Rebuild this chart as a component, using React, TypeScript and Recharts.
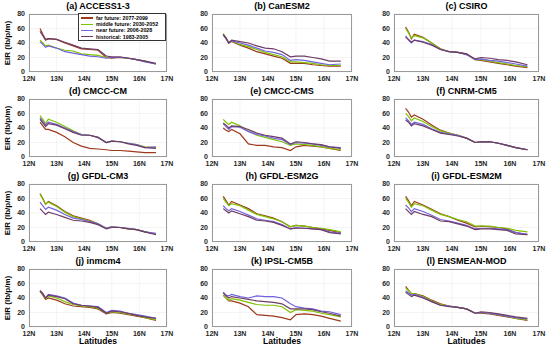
import { LineChart, Line, XAxis, YAxis, CartesianGrid } from 'recharts'

// latitudes (deg N) sampled along the coast
const LATS = [12.4, 12.5, 12.6, 12.7, 13.0, 13.3, 13.6, 13.9, 14.2, 14.5, 14.8, 15.0, 15.3, 15.6, 15.9, 16.2, 16.6]
const X_TICKS = [12, 13, 14, 15, 16, 17]
const Y_TICKS = [0, 20, 40, 60, 80]

const SERIES = [
  { key: 'far', name: 'far future: 2077-2099', color: '#9c3a1c' },
  { key: 'mid', name: 'middle future: 2030-2052', color: '#7fc200' },
  { key: 'near', name: 'near future: 2006-2028', color: '#7262e0' },
  { key: 'hist', name: 'historical: 1983-2005', color: '#6e3c66' },
]

const ACCESS13 = {
  far: [60, 52, 45, 46, 45, 40, 36, 32, 31, 30, 20, 19, 20, 19, 17, 15, 11],
  mid: [44, 40, 36, 37, 33, 30, 29, 25, 24, 23, 20, 20, 20, 19, 17, 15, 11],
  near: [42, 38, 34, 36, 33, 28, 26, 24, 22, 21, 19, 20, 20, 19, 17, 14, 11],
  hist: [56, 50, 44, 46, 45, 41, 37, 33, 32, 31, 22, 21, 21, 19, 17, 15, 12],
}
const CANESM2 = {
  far: [52, 46, 40, 42, 37, 33, 28, 25, 22, 19, 12, 12, 12, 10, 9, 8, 8],
  mid: [53, 47, 41, 43, 38, 35, 31, 27, 24, 21, 14, 14, 13, 12, 10, 9, 9],
  near: [51, 46, 40, 43, 40, 37, 33, 29, 27, 24, 16, 17, 16, 14, 12, 10, 11],
  hist: [52, 47, 40, 44, 42, 40, 36, 33, 32, 28, 21, 22, 22, 20, 18, 15, 15],
}
const CSIRO = {
  far: [62, 55, 46, 52, 48, 40, 32, 28, 27, 25, 17, 16, 14, 12, 10, 8, 6],
  mid: [60, 54, 47, 50, 47, 40, 32, 28, 27, 24, 17, 17, 15, 13, 11, 9, 7],
  near: [50, 44, 40, 44, 42, 38, 31, 28, 27, 24, 17, 18, 16, 15, 13, 11, 8],
  hist: [48, 45, 41, 44, 41, 37, 31, 28, 27, 25, 18, 20, 19, 17, 16, 14, 10],
}
const CMCC_CM = {
  far: [48, 43, 38, 38, 34, 28, 20, 15, 12, 11, 10, 9, 9, 8, 7, 6, 6],
  mid: [57, 52, 46, 52, 48, 42, 36, 31, 30, 27, 20, 22, 21, 19, 17, 14, 13],
  near: [54, 49, 44, 48, 45, 40, 35, 31, 30, 27, 20, 22, 21, 19, 17, 13, 14],
  hist: [52, 47, 42, 46, 44, 39, 34, 30, 30, 27, 20, 22, 21, 18, 16, 13, 12],
}
const CMCC_CMS = {
  far: [40, 37, 35, 38, 32, 18, 16, 16, 14, 13, 9, 14, 16, 15, 14, 12, 9],
  mid: [52, 48, 45, 48, 43, 36, 30, 27, 24, 21, 16, 18, 17, 16, 14, 12, 10],
  near: [46, 42, 38, 42, 41, 35, 31, 29, 26, 24, 17, 20, 19, 18, 16, 14, 13],
  hist: [47, 44, 40, 43, 42, 38, 33, 30, 28, 26, 18, 21, 20, 18, 17, 14, 12],
}
const CNRM_CM5 = {
  far: [67, 62, 55, 58, 52, 44, 37, 33, 30, 26, 20, 21, 21, 19, 16, 13, 10],
  mid: [60, 56, 50, 54, 49, 42, 36, 33, 30, 26, 20, 21, 21, 19, 16, 13, 10],
  near: [54, 50, 45, 48, 45, 39, 34, 32, 30, 26, 20, 21, 21, 19, 16, 13, 10],
  hist: [51, 48, 43, 46, 43, 38, 33, 31, 29, 26, 20, 21, 21, 19, 16, 13, 10],
}
const GFDL_CM3 = {
  far: [67, 60, 52, 56, 50, 42, 36, 33, 30, 25, 19, 21, 20, 18, 17, 14, 11],
  mid: [66, 59, 52, 55, 49, 41, 35, 32, 29, 25, 19, 21, 20, 18, 17, 14, 11],
  near: [55, 50, 45, 48, 44, 38, 33, 31, 28, 25, 19, 21, 20, 19, 17, 14, 12],
  hist: [46, 42, 38, 41, 38, 34, 30, 29, 27, 24, 18, 20, 20, 18, 17, 14, 10],
}
const GFDL_ESM2G = {
  far: [63, 57, 51, 56, 51, 46, 39, 36, 33, 28, 21, 23, 22, 20, 18, 16, 13],
  mid: [60, 55, 50, 53, 50, 44, 38, 35, 32, 28, 21, 23, 22, 20, 19, 17, 14],
  near: [50, 46, 43, 46, 42, 37, 32, 30, 28, 24, 18, 20, 19, 18, 17, 14, 12],
  hist: [46, 43, 40, 43, 39, 35, 30, 29, 27, 23, 18, 19, 19, 18, 17, 13, 11],
}
const GFDL_ESM2M = {
  far: [63, 57, 50, 56, 51, 45, 39, 35, 30, 26, 21, 22, 21, 20, 18, 13, 10],
  mid: [60, 55, 48, 53, 50, 44, 38, 35, 31, 28, 22, 22, 22, 20, 19, 16, 14],
  near: [51, 47, 42, 46, 42, 37, 31, 29, 26, 23, 18, 19, 19, 18, 17, 13, 11],
  hist: [46, 42, 38, 42, 38, 35, 29, 28, 25, 22, 17, 18, 18, 17, 16, 11, 10],
}
const INMCM4 = {
  far: [49, 44, 38, 40, 37, 32, 29, 28, 27, 25, 18, 20, 19, 17, 15, 13, 9],
  mid: [50, 45, 39, 43, 40, 35, 31, 29, 28, 26, 19, 21, 20, 18, 16, 13, 10],
  near: [50, 46, 40, 45, 43, 40, 33, 30, 29, 28, 20, 23, 22, 19, 17, 15, 12],
  hist: [50, 46, 40, 44, 42, 39, 32, 30, 29, 27, 19, 22, 21, 19, 16, 14, 12],
}
const IPSL_CM5B = {
  far: [44, 40, 36, 36, 33, 28, 17, 16, 15, 13, 10, 17, 18, 17, 15, 12, 8],
  mid: [44, 40, 37, 39, 37, 34, 31, 30, 30, 28, 20, 24, 23, 22, 19, 17, 14],
  near: [48, 44, 43, 45, 42, 40, 43, 42, 42, 40, 32, 28, 26, 25, 22, 21, 17],
  hist: [47, 43, 40, 42, 40, 38, 36, 35, 34, 32, 25, 25, 25, 24, 21, 19, 15],
}
const ENSMEAN = {
  far: [56, 51, 46, 46, 43, 37, 32, 29, 27, 25, 19, 19, 18, 16, 14, 12, 9],
  mid: [54, 50, 46, 46, 42, 36, 31, 29, 27, 25, 19, 20, 19, 17, 15, 12, 10],
  near: [50, 47, 44, 45, 41, 35, 30, 29, 27, 25, 19, 20, 19, 17, 15, 13, 11],
  hist: [48, 45, 42, 44, 40, 35, 30, 28, 27, 25, 19, 21, 20, 18, 16, 14, 12],
}

const PANELS = [
  { title: '(a) ACCESS1-3', m: ACCESS13 },
  { title: '(b) CanESM2', m: CANESM2 },
  { title: '(c) CSIRO', m: CSIRO },
  { title: '(d) CMCC-CM', m: CMCC_CM },
  { title: '(e) CMCC-CMS', m: CMCC_CMS },
  { title: '(f) CNRM-CM5', m: CNRM_CM5 },
  { title: '(g) GFDL-CM3', m: GFDL_CM3 },
  { title: '(h) GFDL-ESM2G', m: GFDL_ESM2G },
  { title: '(i) GFDL-ESM2M', m: GFDL_ESM2M },
  { title: '(j) inmcm4', m: INMCM4 },
  { title: '(k) IPSL-CM5B', m: IPSL_CM5B },
  { title: '(l) ENSMEAN-MOD', m: ENSMEAN },
]

// plot-area layout
const COL_LEFT = [29, 212, 394]
const COL_W = [138, 140, 145]
const ROW_TOP = [14, 99, 184, 269]
const PLOT_H = 58
const PAD_TOP = 6
const Y_AXIS_W = 30
const X_AXIS_H = 16
const FONT = '"Liberation Sans", Arial, sans-serif'

const tickStyle = { fontSize: 7, fontWeight: 700, fill: '#262626', fontFamily: FONT }

function Panel({ title, m, idx }: { title: string; m: any; idx: number }) {
  const col = idx % 3
  const row = Math.floor(idx / 3)
  const left = COL_LEFT[col]
  const top = ROW_TOP[row]
  const w = COL_W[col]
  const data = LATS.map((lat, i) => ({ lat, far: m.far[i], mid: m.mid[i], near: m.near[i], hist: m.hist[i] }))

  return (
    <>
      <div
        style={{
          position: 'absolute',
          left,
          top: top - 13,
          width: w,
          textAlign: 'center',
          fontFamily: FONT,
          fontWeight: 700,
          fontSize: 9,
          lineHeight: '11px',
          color: '#000',
        }}
      >
        {title}
      </div>
      <div style={{ position: 'absolute', left: left - Y_AXIS_W, top: top - PAD_TOP }}>
        <LineChart
          width={w + Y_AXIS_W + 10}
          height={PLOT_H + X_AXIS_H + PAD_TOP}
          data={data}
          margin={{ top: PAD_TOP, right: 10, bottom: 0, left: 0 }}
        >
          <CartesianGrid stroke="#ececec" strokeWidth={0.6} />
          <XAxis
            dataKey="lat"
            type="number"
            domain={[12, 17]}
            ticks={X_TICKS}
            tickFormatter={(v) => `${v}N`}
            tick={tickStyle}
            tickLine={false}
            axisLine={false}
            tickSize={2}
            tickMargin={2}
            height={X_AXIS_H}
            interval={0}
          />
          <YAxis
            type="number"
            domain={[0, 80]}
            ticks={Y_TICKS}
            tick={tickStyle}
            tickLine={false}
            axisLine={false}
            tickSize={2}
            tickMargin={2}
            width={Y_AXIS_W}
            interval={0}
          />
          {SERIES.map((s) => (
            <Line
              key={s.key}
              dataKey={s.key}
              name={s.name}
              stroke={s.color}
              strokeWidth={1.2}
              dot={false}
              type="linear"
              isAnimationActive={false}
            />
          ))}
        </LineChart>
      </div>
      <div
        style={{
          position: 'absolute',
          left,
          top,
          width: w,
          height: PLOT_H,
          boxSizing: 'border-box',
          border: '1px solid #9a9a9a',
          pointerEvents: 'none',
        }}
      />
    </>
  )
}

export default function App() {
  return (
    <div style={{ position: 'absolute', left: 0, top: 0, width: 550, height: 349, background: '#fff', overflow: 'hidden' }}>
      {PANELS.map((p, i) => (
        <Panel key={p.title} title={p.title} m={p.m} idx={i} />
      ))}
      {ROW_TOP.map((t) => (
        <div
          key={t}
          style={{
            position: 'absolute',
            left: 8 - 40,
            top: t + PLOT_H / 2 - 5,
            width: 80,
            height: 10,
            lineHeight: '10px',
            textAlign: 'center',
            transform: 'rotate(-90deg)',
            fontFamily: FONT,
            fontWeight: 700,
            fontSize: 8,
          }}
        >
          EIR (lb/p/m)
        </div>
      ))}
      {COL_LEFT.map((l, c) => (
        <div
          key={l}
          style={{
            position: 'absolute',
            left: l,
            top: 336,
            width: COL_W[c],
            textAlign: 'center',
            fontFamily: FONT,
            fontWeight: 700,
            fontSize: 8.5,
            lineHeight: '11px',
          }}
        >
          Latitudes
        </div>
      ))}
      <div
        style={{
          position: 'absolute',
          left: 78,
          top: 13,
          width: 88,
          height: 28,
          boxSizing: 'border-box',
          border: '1px solid #333',
          background: '#fff',
          padding: '1px 2px',
          fontFamily: FONT,
          fontWeight: 700,
          fontSize: 5.3,
          lineHeight: '6.2px',
        }}
      >
        {SERIES.map((s) => (
          <div key={s.key} style={{ display: 'flex', alignItems: 'center', whiteSpace: 'nowrap' }}>
            <span style={{ display: 'inline-block', width: 12, height: 1.5, background: s.color, marginRight: 3 }} />
            {s.name}
          </div>
        ))}
      </div>
    </div>
  )
}
